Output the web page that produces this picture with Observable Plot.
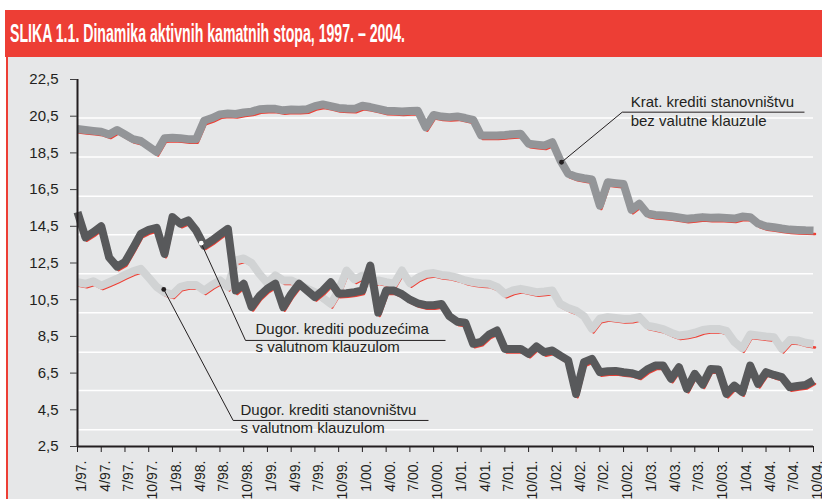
<!DOCTYPE html>
<html><head><meta charset="utf-8">
<script src="https://cdn.jsdelivr.net/npm/d3@7"></script>
<script src="https://cdn.jsdelivr.net/npm/@observablehq/plot@0.6"></script>
<style>
html,body{margin:0;padding:0;background:#fff;width:822px;height:499px;overflow:hidden;}
#title{position:absolute;left:5px;top:10px;width:817px;height:47px;background:#ed3e35;}
#title span{position:absolute;left:5px;top:9px;color:#fff;font-weight:bold;font-size:25px;font-family:"Liberation Sans Narrow","Arial Narrow","Liberation Sans",Arial,sans-serif;white-space:nowrap;transform-origin:0 0;}
#panel{position:absolute;left:6px;top:57px;width:814px;height:442px;background:#e6e7e8;border-left:2px solid #ed3e35;}
#panel svg{display:block;}
</style>
</head><body>
<div id="title"><span id="tt">SLIKA 1.1. Dinamika aktivnih kamatnih stopa, 1997. – 2004.</span></div>
<div id="panel"></div>
<script>
// Monthly values, 1/1997 – 10/2004
const kratStan = [19.8, 19.75, 19.7, 19.65, 19.5, 19.75, 19.5, 19.25, 19.15, 18.85,
 18.55, 19.3, 19.32, 19.3, 19.25, 19.25, 20.25, 20.4, 20.6, 20.65,
 20.62, 20.7, 20.75, 20.88, 20.9, 20.9, 20.82, 20.86, 20.85, 20.88,
 21.05, 21.14, 21.05, 20.95, 20.92, 20.9, 21.07, 21.0, 20.9, 20.8,
 20.78, 20.75, 20.78, 20.8, 19.9, 20.57, 20.48, 20.45, 20.49, 20.4,
 20.3, 19.45, 19.45, 19.45, 19.48, 19.52, 19.54, 19.0, 18.95, 18.9,
 19.08, 18.1, 17.36, 17.2, 17.12, 17.05, 15.63, 16.9, 16.85, 16.8,
 15.4, 15.73, 15.2, 15.12, 15.09, 15.05, 14.98, 14.91, 14.95, 15.0,
 14.97, 14.98, 14.95, 14.92, 15.03, 15.0, 14.65, 14.5, 14.45, 14.38,
 14.32, 14.3, 14.28, 14.27];
const dugPoduzeca = [15.27, 13.9, 14.18, 14.5, 12.8, 12.3, 12.55, 13.3, 14.09, 14.3,
 14.42, 13.0, 15.0, 14.64, 14.82, 14.27, 13.45, 13.73, 14.05, 14.36,
 11.0, 11.37, 10.1, 10.7, 11.1, 11.37, 10.09, 10.8, 11.37, 11.0,
 10.64, 11.0, 11.45, 10.82, 10.85, 10.91, 11.0, 12.36, 9.8, 11.0,
 11.0, 10.8, 10.5, 10.3, 10.2, 10.2, 10.27, 9.6, 9.3, 9.25,
 8.1, 8.2, 8.6, 8.82, 7.82, 7.82, 7.82, 7.55, 7.95, 7.64,
 7.73, 7.45, 7.19, 5.37, 7.09, 7.28, 6.55, 6.6, 6.62, 6.55,
 6.5, 6.37, 6.7, 6.91, 6.91, 6.19, 6.82, 5.64, 6.46, 5.88,
 6.73, 6.7, 5.37, 5.82, 5.46, 6.91, 5.91, 6.55, 6.4, 6.28,
 5.73, 5.8, 5.85, 6.1];
const dugStan = [11.45, 11.37, 11.5, 11.27, 11.45, 11.64, 11.85, 12.05, 12.18, 11.7,
 11.2, 10.9, 10.78, 11.2, 11.3, 11.3, 11.0, 11.3, 11.55, 11.2,
 12.64, 12.75, 12.5, 11.9, 11.4, 11.82, 11.55, 11.55, 11.35, 11.1,
 10.91, 10.6, 10.27, 11.0, 12.09, 11.6, 11.82, 11.4, 11.55, 11.45,
 11.37, 12.09, 11.4, 11.7, 11.9, 11.95, 11.85, 11.8, 11.7, 11.55,
 11.45, 11.4, 11.37, 11.2, 10.82, 11.0, 11.09, 11.0, 10.91, 10.95,
 11.0, 10.27, 10.05, 9.9, 9.6, 8.91, 9.46, 9.55, 9.5, 9.45,
 9.46, 9.55, 9.09, 9.0, 8.9, 8.7, 8.55, 8.6, 8.7, 8.85,
 8.91, 8.91, 8.8, 8.2, 7.85, 8.6, 8.55, 8.5, 8.46, 7.82,
 8.3, 8.28, 8.15, 8.09];
const xTickLabels = ["1/97.","4/97.","7/97.","10/97.","1/98.","4/98.","7/98.","10/98.",
 "1/99.","4/99.","7/99.","10/99.","1/00.","4/00.","7/00.","10/00.",
 "1/01.","4/01.","7/01.","10/01.","1/02.","4/02.","7/02.","10/02.",
 "1/03.","4/03.","7/03.","10/03.","1/04.","4/04.","7/04.","10/04."];
const yTicks = [2.5, 4.5, 6.5, 8.5, 10.5, 12.5, 14.5, 16.5, 18.5, 20.5, 22.5];
const gridValues = [20.4, 18.27, 16.14, 14.04, 11.91, 9.79, 7.64, 5.55, 3.41];
// annotations (month index, value)
const annDots = [
  {m: 61.16, v: 17.99, fill: "#231f20"},
  {m: 15.63, v: 13.58, fill: "#ffffff"},
  {m: 10.9, v: 11.06, fill: "#231f20"}
];
const annLeaders = [
  {m1: 61.16, v1: 17.99, m2: 68.83, v2: 20.72, m3: 91.86},
  {m1: 15.63, v1: 13.58, m2: 21.23, v2: 8.28, m3: 46.5},
  {m1: 10.9, v1: 11.06, m2: 19.67, v2: 3.92, m3: 44.35}
];
const annText = [
  {m: 69.9, v: 20.99, t: "Krat. krediti stanovništvu"},
  {m: 69.9, v: 19.99, t: "bez valutne klauzule"},
  {m: 22.49, v: 8.64, t: "Dugor. krediti poduzećima"},
  {m: 22.49, v: 7.64, t: "s valutnom klauzulom"},
  {m: 20.6, v: 4.19, t: "Dugor. krediti stanovništvu"},
  {m: 20.6, v: 3.21, t: "s valutnom klauzulom"}
];

const toRows = arr => arr.map((v, i) => ({m: i, v}));
const series = [
  {rows: toRows(kratStan), color: "#939598"},
  {rows: toRows(dugStan), color: "#d1d3d4"},
  {rows: toRows(dugPoduzeca), color: "#58595b"}
];
const xTickIdx = xTickLabels.map((d, i) => i * 3);
const red = "#ef3e33";
const ink = "#231f20";

const lineMarks = [];
for (const s of series) {
  lineMarks.push(Plot.line(s.rows, {x: "m", y: "v", stroke: red, strokeWidth: 2.5, dx: 1.5, dy: 3.5, strokeLinejoin: "round"}));
  lineMarks.push(Plot.line(s.rows, {x: "m", y: "v", stroke: s.color, strokeWidth: 8, strokeLinejoin: "round", strokeLinecap: "butt"}));
}

const chart = Plot.plot({
  width: 814, height: 442,
  marginLeft: 69, marginRight: 9, marginTop: 22, marginBottom: 53,
  style: {background: "transparent", fontFamily: "'Liberation Sans', Arial, sans-serif", fontSize: "15px", color: ink, overflow: "visible"},
  x: {domain: [0, 93], axis: null},
  y: {domain: [2.5, 22.5], axis: null},
  marks: [
    Plot.ruleY(gridValues, {stroke: "#ffffff", strokeWidth: 1.5}),
    ...lineMarks,
    Plot.link(annLeaders, {x1: "m1", y1: "v1", x2: "m2", y2: "v2", stroke: ink, strokeWidth: 1}),
    Plot.link(annLeaders, {x1: "m2", y1: "v2", x2: "m3", y2: "v2", stroke: ink, strokeWidth: 1}),
    Plot.dot(annDots, {x: "m", y: "v", r: 2.4, fill: "fill", stroke: null}),
    Plot.text(annText, {x: "m", y: "v", text: "t", textAnchor: "start", lineAnchor: "bottom", fontSize: 15, fill: ink}),
    Plot.ruleX([0], {stroke: ink, strokeWidth: 2}),
    Plot.ruleY([2.5], {stroke: ink, strokeWidth: 2}),
    Plot.axisY({ticks: yTicks, tickSize: 7, tickPadding: 12, tickFormat: d => d.toFixed(1).replace(".", ","), fontSize: 15, label: null, stroke: "#414042", fill: ink}),
    Plot.axisX({ticks: xTickIdx, tickSize: 6, tickFormat: () => "", label: null, stroke: ink}),
    Plot.text(xTickIdx, {x: d => d, frameAnchor: "bottom", text: (d, i) => xTickLabels[i], rotate: -90, textAnchor: "end", lineAnchor: "middle", dy: 14, dx: 4, fontSize: 14, fill: ink})
  ]
});
document.getElementById("panel").appendChild(chart);

const tt = document.getElementById("tt");
const w = tt.getBoundingClientRect().width;
tt.style.transform = `scaleX(${395 / w})`;
</script>
</body></html>
